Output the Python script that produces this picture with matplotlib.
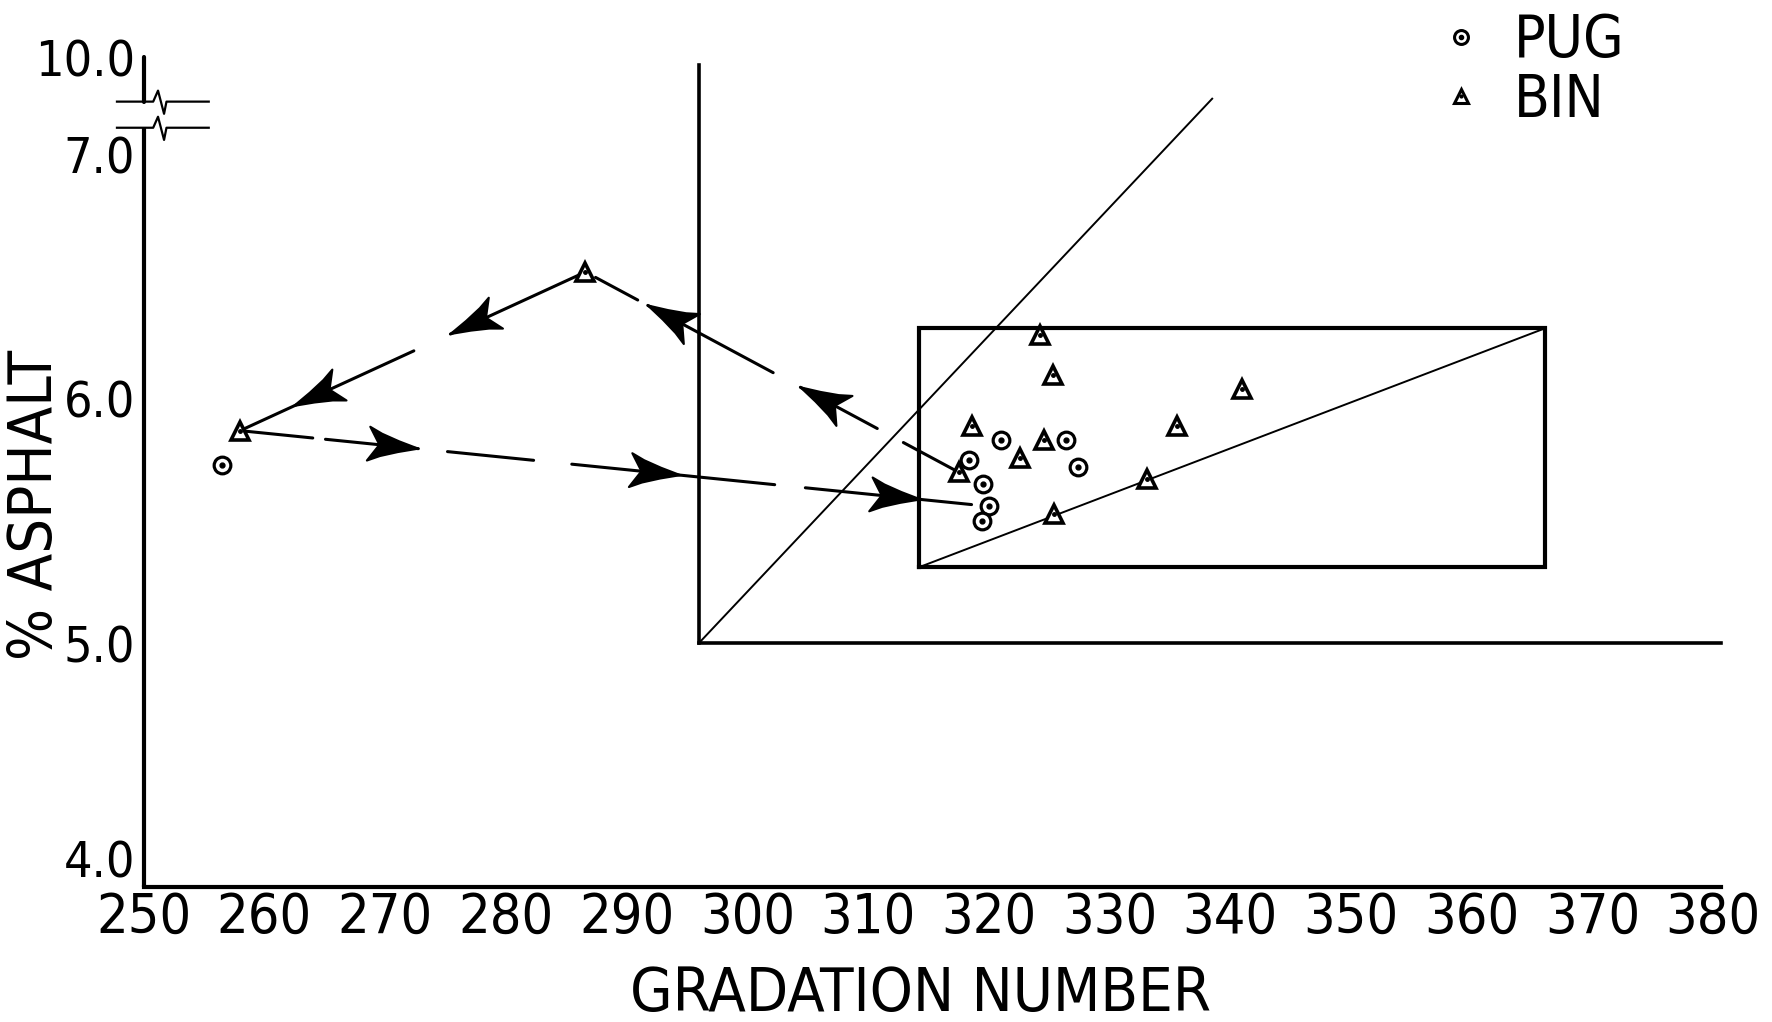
import matplotlib.pyplot as plt
import numpy as np
from matplotlib.lines import Line2D
from matplotlib.patches import Polygon
from matplotlib.legend_handler import HandlerTuple

plt.rcParams['font.family'] = ['DejaVu Sans']
plt.rcParams['font.stretch'] = 'condensed'

# PUG samples (gradation number, % asphalt)
pug_gradation = [256.5, 318.4, 321.0, 326.4, 327.4, 319.5, 320.0, 319.4]
pug_asphalt = [5.73, 5.75, 5.83, 5.83, 5.72, 5.65, 5.56, 5.50]

# BIN samples
bin_gradation = [258.0, 286.6, 317.5, 324.2, 325.3, 341.0, 318.6, 335.6, 324.6, 322.6, 333.1, 325.4]
bin_asphalt = [5.87, 6.52, 5.70, 6.26, 6.10, 6.04, 5.89, 5.89, 5.83, 5.76, 5.67, 5.53]

x_ticks = list(range(250, 381, 10))
y_ticks = [4.0, 5.0, 6.0, 7.0]
y_tick_labels = ['4.0', '5.0', '6.0', '7.0']
y_top_label = '10.0'  # shown above the axis break

# specification lines
spec_min_gradation = 296
spec_min_asphalt = 5.0
spec_diag_end = (338.5, 7.23)
box_gradation = [314.2, 366.1]
box_asphalt = [5.31, 6.29]

# where the drawn y axis stops / breaks (in plot units)
axis_top = 7.40
break_hi = 7.218
break_lo = 7.111
x_axis_end = 380.6

fig = plt.figure(figsize=(17.72, 10.22), dpi=100)
ax = fig.add_axes([0.0810, 0.1320, 0.8995, 0.8598])
ax.set_xlim(250, 382)
ax.set_ylim(4.0, 7.6)

for s in ['top', 'right', 'left']:
    ax.spines[s].set_visible(False)
ax.spines['bottom'].set_linewidth(3)
ax.spines['bottom'].set_bounds(250, x_axis_end)

ax.set_xticks(x_ticks)
ax.set_xticklabels([str(v) for v in x_ticks])
ax.set_yticks(y_ticks + [axis_top])
ax.set_yticklabels(y_tick_labels + [y_top_label])
ax.tick_params(axis='x', length=0, pad=3, labelsize=40)
ax.tick_params(axis='y', length=0, pad=6, labelsize=36)
ax.get_yticklabels()[0].set_va('bottom')

# broken y axis
ax.plot([250, 250], [4.0, break_lo], color='black', lw=3, clip_on=False, solid_capstyle='butt')
ax.plot([250, 250], [break_hi, axis_top], color='black', lw=3, clip_on=False, solid_capstyle='round')
for yb in [break_hi, break_lo]:
    ax.plot([247.8, 250.8, 251.2, 251.7, 251.9, 255.4],
            [yb, yb, yb + 0.045, yb - 0.05, yb, yb],
            color='black', lw=1.6, clip_on=False)

# specification region
ax.plot([spec_min_gradation, spec_min_gradation], [spec_min_asphalt, 7.37], color='black', lw=2.6)
ax.plot([spec_min_gradation, x_axis_end], [spec_min_asphalt, spec_min_asphalt], color='black', lw=2.6)
ax.plot([spec_min_gradation, spec_diag_end[0]], [spec_min_asphalt, spec_diag_end[1]], color='black', lw=1.4)

bx = [box_gradation[0], box_gradation[1], box_gradation[1], box_gradation[0], box_gradation[0]]
by = [box_asphalt[0], box_asphalt[0], box_asphalt[1], box_asphalt[1], box_asphalt[0]]
ax.plot(bx, by, color='black', lw=3, solid_joinstyle='miter')
ax.plot(box_gradation, box_asphalt, color='black', lw=1.4)


def along(p0, p1, f):
    return (p0[0] + f * (p1[0] - p0[0]), p0[1] + f * (p1[1] - p0[1]))


def arrowhead(p0, p1, f, length=50, width=34):
    t = ax.transData
    a = t.transform(p0)
    b = t.transform(p1)
    u = (b - a) / np.hypot(*(b - a))
    n = np.array([-u[1], u[0]])
    tip = a + f * (b - a)
    shape = [(0, 0), (-0.4, 0.16), (-0.75, 0.33), (-1.0, 0.5), (-0.8, 0.04),
             (-0.8, -0.04), (-1.0, -0.5), (-0.75, -0.33), (-0.4, -0.16)]
    pts = np.array([tip + s * length * u + w * width * n for s, w in shape])
    pts = t.inverted().transform(pts)
    ax.add_patch(Polygon(pts, closed=True, facecolor='black', edgecolor='black', lw=1.5,
                         joinstyle='round', zorder=3))


def history(p0, p1, dashes, tips):
    for f0, f1 in dashes:
        q0 = along(p0, p1, f0)
        q1 = along(p0, p1, f1)
        ax.plot([q0[0], q1[0]], [q0[1], q1[1]], color='black', lw=2.2, solid_capstyle='round', zorder=2)
    for f in tips:
        arrowhead(p0, p1, f)


peak = (bin_gradation[1], bin_asphalt[1])
left = (bin_gradation[0], bin_asphalt[0])
right = (bin_gradation[2], bin_asphalt[2])
pug_end = (pug_gradation[6], pug_asphalt[6])

history(peak, left, [(0.0, 0.391), (0.497, 1.0)], [0.391, 0.844])
history(left, pug_end, [(0.0, 0.097), (0.114, 0.238), (0.277, 0.392), (0.443, 0.714), (0.755, 0.977)],
        [0.238, 0.588, 0.909])
history(right, peak, [(0.0, 0.148), (0.218, 0.424), (0.497, 0.833), (0.860, 0.973)], [0.424, 0.833])

# markers
ax.plot(pug_gradation, pug_asphalt, 'o', ms=12, mfc='white', mec='black', mew=2.3, zorder=5)
ax.plot(pug_gradation, pug_asphalt, 'o', ms=3.5, color='black', zorder=6)
ax.plot(bin_gradation, bin_asphalt, '^', ms=13, mfc='white', mec='black', mew=2.6, zorder=5)
ax.plot(bin_gradation, bin_asphalt, 'o', ms=2.5, color='black', zorder=6)

# legend
h_pug = (Line2D([], [], ls='none', marker='o', ms=10, mfc='white', mec='black', mew=2.2),
         Line2D([], [], ls='none', marker='o', ms=3, color='black'))
h_bin = (Line2D([], [], ls='none', marker='^', ms=10, mfc='white', mec='black', mew=2.2),
         Line2D([], [], ls='none', marker='o', ms=2, color='black'))
ax.legend([h_pug, h_bin], ['PUG', 'BIN'], handler_map={tuple: HandlerTuple(ndivide=1)},
          loc='upper left', bbox_to_anchor=(0.808, 0.988), bbox_transform=fig.transFigure,
          frameon=False, fontsize=42, handlelength=1.0, handletextpad=0.4,
          labelspacing=0.04, borderpad=0, borderaxespad=0)

fig.text(36 / 1772, 1 - 505 / 1022, '% ASPHALT', rotation=90, fontsize=44, ha='center', va='center')
fig.text(920 / 1772, 1 - 994 / 1022, 'GRADATION NUMBER', fontsize=44, ha='center', va='center')

fig.savefig('out.png', dpi=100, facecolor='white')
